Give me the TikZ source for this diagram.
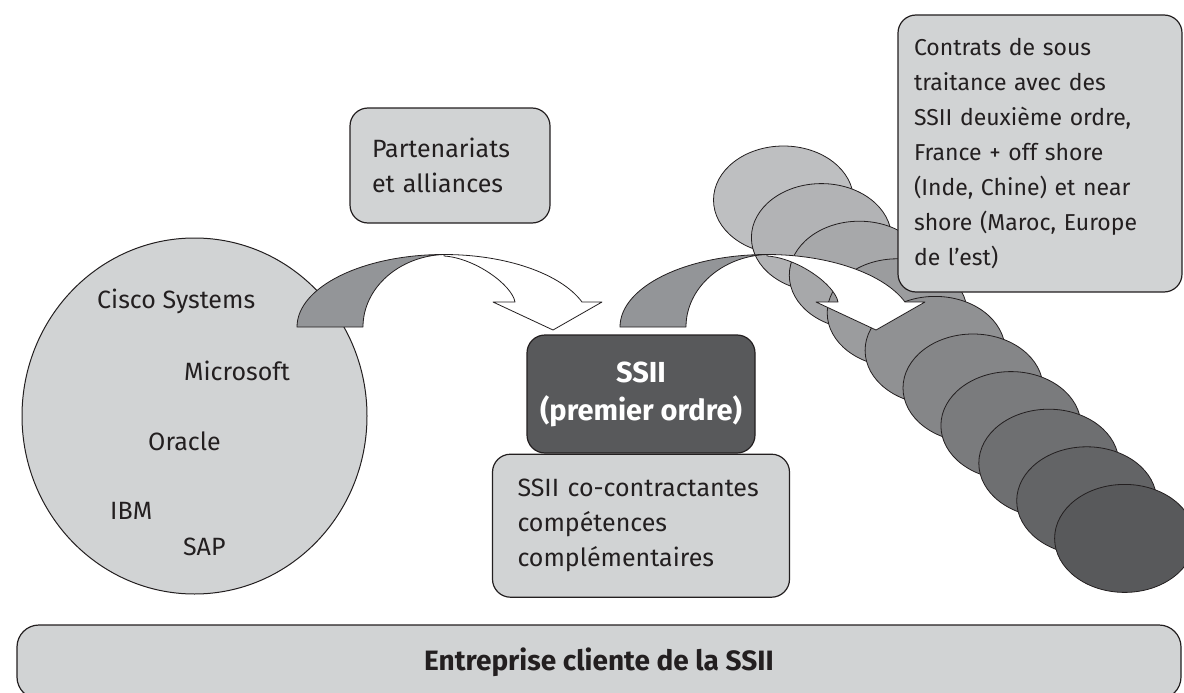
\documentclass[tikz,border=0pt]{standalone}
\usepackage{fontspec}
\setmainfont{Fira Sans}
\usetikzlibrary{positioning}
\usetikzlibrary{shapes.geometric}

\definecolor{ink}{HTML}{231F20}
\definecolor{boxgray}{HTML}{D1D3D4}
\definecolor{darkgray}{HTML}{58595B}
\definecolor{arrowgray}{HTML}{939598}
\definecolor{ellfirst}{HTML}{BEBFC1}
\definecolor{elllast}{HTML}{58595B}

\tikzset{
  box/.style={draw=ink, line width=1.2pt, fill=boxgray, text=ink, rounded corners=18pt,
    inner sep=0pt, align=left, font=\fontsize{25}{35}\selectfont},
  darkbox/.style={box, fill=darkgray, text=white, align=center,
    font=\fontsize{29}{38}\selectfont\bfseries},
  firm/.style={anchor=base west, inner sep=0pt, text=ink, font=\fontsize{25}{35}\selectfont},
  blob/.style={draw=ink, line width=0.8pt},
  bentarrow/.pic={
    % back part
    \draw[blob, fill=arrowgray] (0,0) .. controls (0,-40) and (65.8,-72.5) .. (147,-72.5)
      .. controls (102.3,-71) and (66,-39.2) .. (66,0) -- cycle;
    % front part
    \draw[blob, fill=white] (147,-72.5) .. controls (208.6,-72.5) and (263.8,-53.5) .. (285,-25)
      -- (305,-25) -- (256,3) -- (196,-25) -- (218,-25)
      .. controls (215,-42) and (178,-69) .. (147,-71) -- cycle;
  }
}

\begin{document}
\begin{tikzpicture}[x=1pt, y=-1pt, line join=round]
\useasboundingbox (0,0) rectangle (1184,693);
\clip (0,0) rectangle (1184,693);

  % editeurs
  \node[ellipse, draw=ink, line width=1pt, fill=boxgray, inner sep=0pt,
    minimum width=345pt, minimum height=356pt] (editeurs) at (194.5,416) {}; %
  \node[firm] (cisco)     at (97,308)  {Cisco Systems}; %
  \node[firm] (microsoft) at (184,380) {Microsoft}; %
  \node[firm] (oracle)    at (148,450) {Oracle}; %
  \node[firm] (ibm)       at (110,519) {IBM}; %
  \node[firm] (sap)       at (183,555) {SAP}; %

  \node[box, minimum width=200pt, minimum height=115pt, text width=156pt]
    (partners) at (450,165.5) {Partenariats\\et alliances}; %
  \pic at (297,327) {bentarrow}; %

  % sous-traitants
  \foreach \i [evaluate=\i as \shade using int(100-\i*100/9)] in {0,...,9}
    \draw[blob, fill=ellfirst!\shade!elllast] (783.5+37.9*\i, 200+37.6*\i)
      ellipse [x radius=70pt, y radius=54pt];
  \pic at (620,327) {bentarrow}; %

  \node[box, minimum width=284pt, minimum height=277pt, text width=252pt,
    font=\fontsize{23}{35}\selectfont]
    (soustraitance) at (1040,153.5) {Contrats de sous\\traitance avec des\\SSII deuxième ordre,\\France + off shore\\(Inde, Chine) et near\\shore (Maroc, Europe\\de l’est)}; %

  % SSII
  \node[darkbox, minimum width=228pt, minimum height=118pt]
    (ssii) at (641,394) {SSII\\(premier ordre)}; %
  \node[box, below=0pt of ssii, minimum width=297pt, minimum height=143pt, text width=247pt]
    (cocontract) {SSII co-contractantes\\compétences\\complémentaires}; %

  % client
  \node[box, align=center, rounded corners=22pt, minimum width=1164pt, minimum height=74pt,
    font=\fontsize{28}{35}\selectfont\bfseries] (client) at (599,662) {Entreprise cliente de la SSII}; %

\end{tikzpicture}
\end{document}
